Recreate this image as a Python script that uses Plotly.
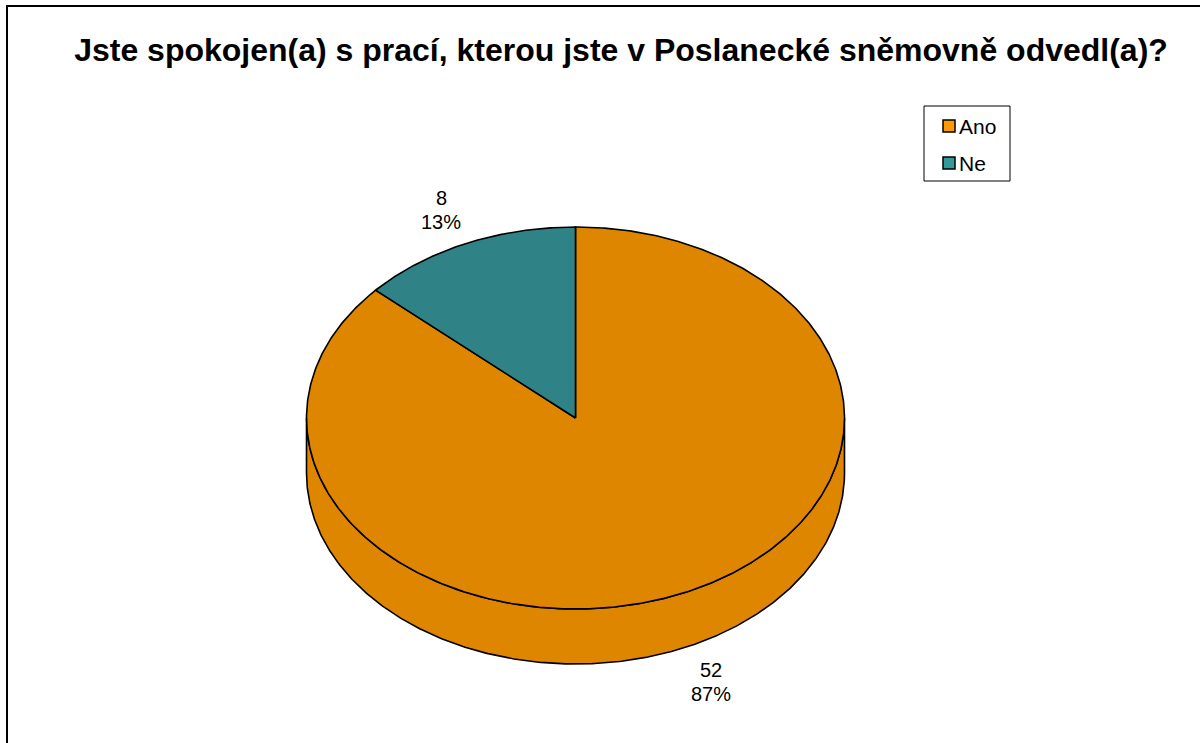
import numpy as np
import plotly.graph_objects as go

TITLE = "Jste spokojen(a) s prací, kterou jste v Poslanecké sněmovně odvedl(a)?"
categories = ["Ano", "Ne"]
values = [52, 8]
pie_colors = ["#DE8600", "#2F8285"]
legend_colors = ["#FF9900", "#339999"]

W, H = 1200, 743
CX, CY, RX, RY, DEPTH = 575.5, 418.0, 269.0, 191.0, 55.0
FONT = "Liberation Sans, Arial, sans-serif"
LINE = dict(color="#000000", width=1.6)

total = sum(values)
fractions = [v / total for v in values]

# Slices run clockwise from 12 o'clock.
spans = []
a = 0.0
for f in fractions:
    spans.append((a, a + 2 * np.pi * f))
    a += 2 * np.pi * f


def arc(a0, a1, dy=0.0):
    t = np.linspace(a0, a1, max(3, int(abs(a1 - a0) * 120)))
    return CX + RX * np.sin(t), CY - RY * np.cos(t) + dy


fig = go.Figure()

# Side wall: visible part of each slice on the lower half of the ellipse.
for (a0, a1), c in zip(spans, pie_colors):
    lo, hi = max(a0, np.pi / 2), min(a1, 3 * np.pi / 2)
    if hi <= lo:
        continue
    x1, y1 = arc(lo, hi)
    x2, y2 = arc(hi, lo, DEPTH)
    fig.add_trace(go.Scatter(
        x=np.r_[x1, x2, x1[0]], y=np.r_[y1, y2, y1[0]], mode="lines", fill="toself",
        fillcolor=c, line=LINE, hoverinfo="skip", showlegend=False))

# Top face of every slice.
for (a0, a1), c, name, v in zip(spans, pie_colors, categories, values):
    x, y = arc(a0, a1)
    fig.add_trace(go.Scatter(
        x=np.r_[CX, x, CX], y=np.r_[CY, y, CY], mode="lines", fill="toself",
        fillcolor=c, line=LINE, name=name, text=f"{name}: {v}", hoverinfo="text",
        showlegend=False))

# Legend entries, one legend per row so the spacing can match the reference.
# Their own symbols are hidden: the visible swatches sit closer to the text.
legend_ids = ["legend", "legend2"]
for name, lid in zip(categories, legend_ids):
    fig.add_trace(go.Scatter(
        x=[None], y=[None], mode="markers", name=name, legend=lid,
        marker=dict(symbol="square", size=12, color="rgba(0,0,0,0)")))

legend_style = dict(
    bgcolor="rgba(0,0,0,0)", borderwidth=0, font=dict(family=FONT, size=21, color="#000000"),
    xanchor="left", yanchor="middle", x=919 / W, itemwidth=30, tracegroupgap=0)

# Data labels: value above percentage.
label_pos = {"Ano": (711, 670, 694), "Ne": (441, 198, 222)}
annotations = []
for name, v, f in zip(categories, values, fractions):
    x, y1, y2 = label_pos[name]
    for y, txt in ((y1, str(v)), (y2, f"{round(f * 100)}%")):
        annotations.append(dict(x=x, y=y, text=txt, showarrow=False, xref="x", yref="y",
                                xanchor="center", yanchor="middle",
                                font=dict(family=FONT, size=20, color="#000000")))

shapes = [
    # outer chart frame, running past the right and bottom of the image
    dict(type="rect", xref="x", yref="y", x0=7, y0=6, x1=W + 20, y1=H + 20,
         line=dict(color="#000000", width=2), fillcolor="rgba(0,0,0,0)", layer="below"),
    # legend frame
    dict(type="rect", xref="x", yref="y", x0=924, y0=106, x1=1010, y1=181,
         line=dict(color="#000000", width=1), fillcolor="#FFFFFF", layer="below"),
]
# legend swatches
for c, yc in zip(legend_colors, (126, 163)):
    shapes.append(dict(type="rect", xref="x", yref="y", x0=943, x1=955, y0=yc - 6, y1=yc + 6,
                       line=dict(color="#000000", width=1.5), fillcolor=c, layer="above"))

fig.update_layout(
    width=W, height=H, autosize=False,
    margin=dict(l=0, r=0, t=0, b=0),
    paper_bgcolor="#FFFFFF", plot_bgcolor="#FFFFFF",
    title=dict(text=f"<b>{TITLE}</b>", x=621 / W, y=1 - 50 / H, xanchor="center", yanchor="middle",
               font=dict(family=FONT, size=32, color="#000000")),
    xaxis=dict(range=[0, W], visible=False, fixedrange=True),
    yaxis=dict(range=[H, 0], visible=False, fixedrange=True),
    showlegend=True,
    legend=dict(y=1 - 126 / H, **legend_style),
    legend2=dict(y=1 - 163 / H, **legend_style),
    annotations=annotations,
    shapes=shapes,
)

fig.write_html("out.html", config={"displayModeBar": False},
               post_script="document.body.style.margin='0';document.body.style.overflow='hidden';")
